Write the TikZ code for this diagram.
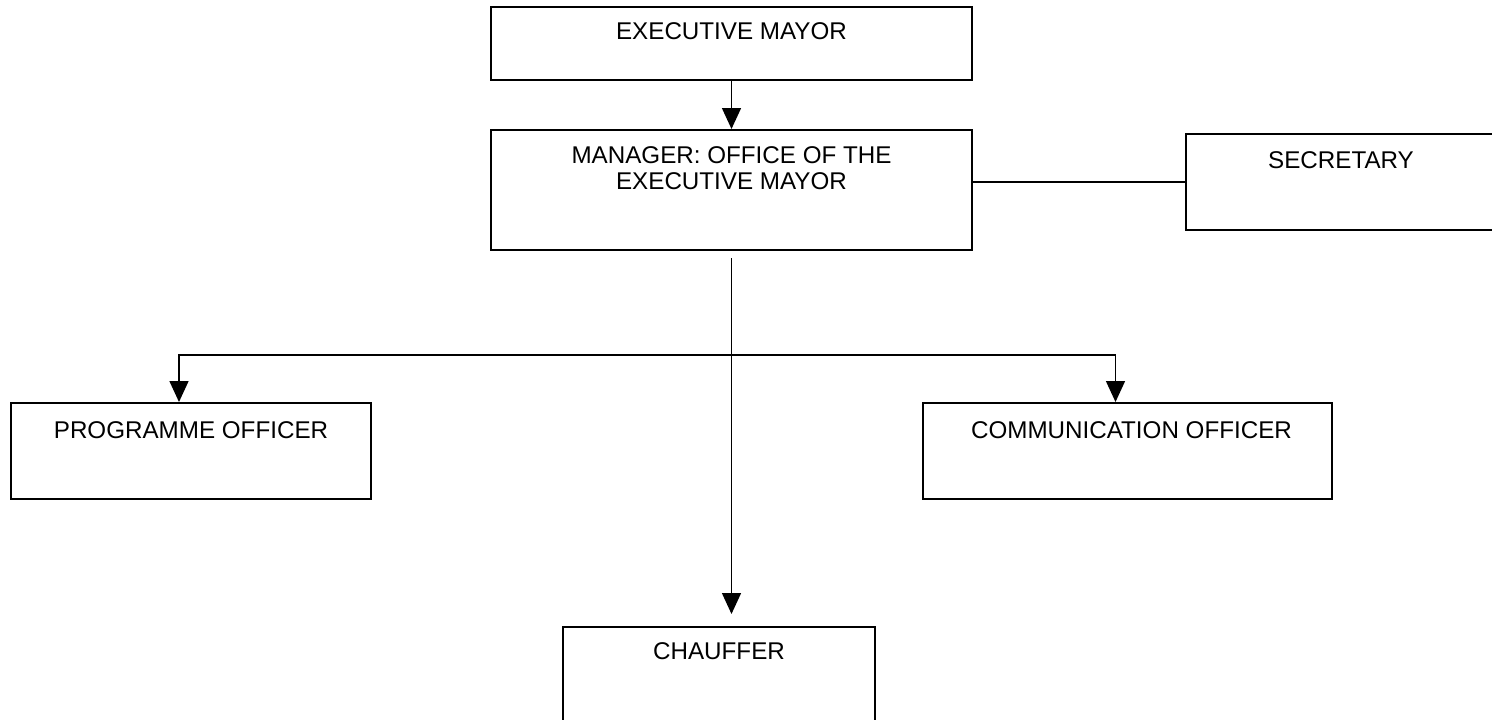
\documentclass[tikz,border=0pt]{standalone}
\usepackage{fontspec}
\setmainfont{Liberation Sans}
\usetikzlibrary{arrows.meta,calc}
\begin{document}
\begin{tikzpicture}[x=1pt,y=1pt,
  post/.style={draw=black, line width=2pt, rectangle, inner sep=0pt},
  title/.style={anchor=north, inner sep=0pt, align=center,
    font=\fontsize{24.2}{26.5}\selectfont},
  link/.style={line width=1.5pt},
  feed/.style={link, -{Triangle[length=21pt,width=19pt]}}]
\useasboundingbox (0,0) rectangle (1492,-720);
\clip (0,0) rectangle (1492,-720);

% posts
\node[post, minimum width=481pt, minimum height=73pt]  (mayor)   at (731.5,-43.5) {};
\node[post, minimum width=481pt, minimum height=120pt] (manager) at (731.5,-190)  {};
\node[post, minimum width=314pt, minimum height=96pt]  (sec)     at (1343,-182)   {};
\node[post, minimum width=360pt, minimum height=96pt]  (prog)    at (191,-451)    {};
\node[post, minimum width=409pt, minimum height=96pt]  (comm)    at (1127.5,-451) {};
\node[post, minimum width=312pt, minimum height=113pt] (chauf)   at (719,-683.5)  {};

% titles
\node[title] (tmayor)   at ($(mayor.north)+(0,-16)$)   {EXECUTIVE MAYOR};
\node[title] (tmanager) at ($(manager.north)+(0,-17)$) {MANAGER: OFFICE OF THE\\EXECUTIVE MAYOR};
\node[title] (tsec)     at ($(sec.north)+(-2,-18)$)    {SECRETARY};
\node[title] (tprog)    at ($(prog.north)+(0,-19)$)    {PROGRAMME OFFICER};
\node[title] (tcomm)    at ($(comm.north)+(4,-19)$)    {COMMUNICATION OFFICER};
\node[title] (tchauf)   at ($(chauf.north)+(0,-16)$)   {CHAUFFER};

% reporting lines
\draw[feed] (mayor.south) -- (manager.north);
\draw[link] (sec.west) -- (sec.west -| manager.east);
\draw[feed, shorten <=7pt, shorten >=12pt] (manager.south) -- (manager.south |- chauf.north);
\coordinate (bus) at ($(manager.south)+(0,-104)$);
\draw[feed] (bus) -| ([xshift=-12pt]prog.north);
\draw[feed] (bus) -| ([xshift=-12pt]comm.north);
\end{tikzpicture}
\end{document}
